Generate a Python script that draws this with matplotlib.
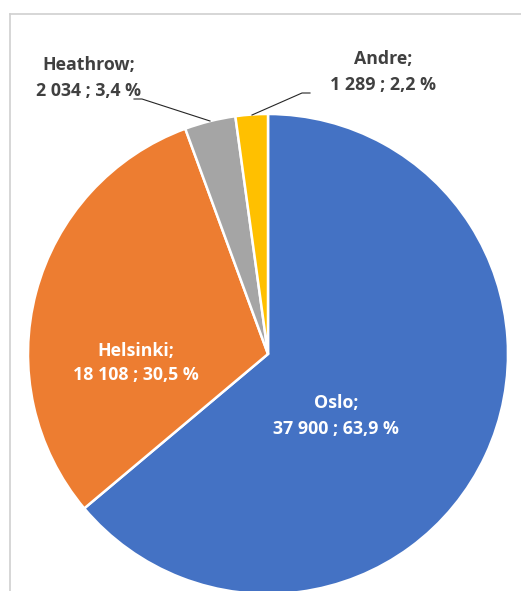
import matplotlib
matplotlib.use("Agg")
import matplotlib.pyplot as plt
from matplotlib.lines import Line2D

categories = ["Oslo", "Helsinki", "Heathrow", "Andre"]
values = [37900, 18108, 2034, 1289]
colors = ["#4472C4", "#ED7D31", "#A5A5A5", "#FFC000"]

W, H = 521, 591
fig = plt.figure(figsize=(W / 100, H / 100), dpi=100)
ax = fig.add_axes([0, 0, 1, 1])


def Y(y):
    # convert a top-down pixel row to the axes' bottom-up coordinate
    return H - y


cx, cy, r = 268, 354, 240
ax.pie(values, colors=colors, startangle=90, counterclock=False,
       center=(cx, Y(cy)), radius=r, frame=True,
       wedgeprops=dict(edgecolor="white", linewidth=1.8))
ax.set_xlim(0, W)
ax.set_ylim(0, H)
ax.set_aspect("equal")
ax.axis("off")

total = sum(values)


def fmt(v):
    num = f"{v:,}".replace(",", " ")
    pct = f"{100 * v / total:.1f}".replace(".", ",")
    return f"{num} ; {pct} %"


label_pos = {
    "Oslo": (336, 416, "white"),
    "Helsinki": (136, 363, "white"),
    "Heathrow": (89, 78, "#404040"),
    "Andre": (383, 72, "#404040"),
}
for cat, v in zip(categories, values):
    x, y, c = label_pos[cat]
    ax.text(x, Y(y), f"{cat};\n{fmt(v)}", ha="center", va="center",
            color=c, fontsize=12.8, fontweight="bold", family="Open Sans",
            linespacing=1.5)

# leader lines for the two small slices
lc = "#262626"
ax.add_line(Line2D([134, 142, 210], [Y(99), Y(99), Y(121)], color=lc, lw=0.8))
ax.add_line(Line2D([252, 302, 310], [Y(115), Y(93), Y(93)], color=lc, lw=0.8))

# chart-area frame
fc = "#D0D0D0"
ax.add_line(Line2D([9.5, W], [Y(13.5), Y(13.5)], color=fc, lw=1.2))
ax.add_line(Line2D([9.5, 9.5], [Y(13.5), 0], color=fc, lw=1.2))

fig.savefig("out.png", dpi=100, facecolor="white")
